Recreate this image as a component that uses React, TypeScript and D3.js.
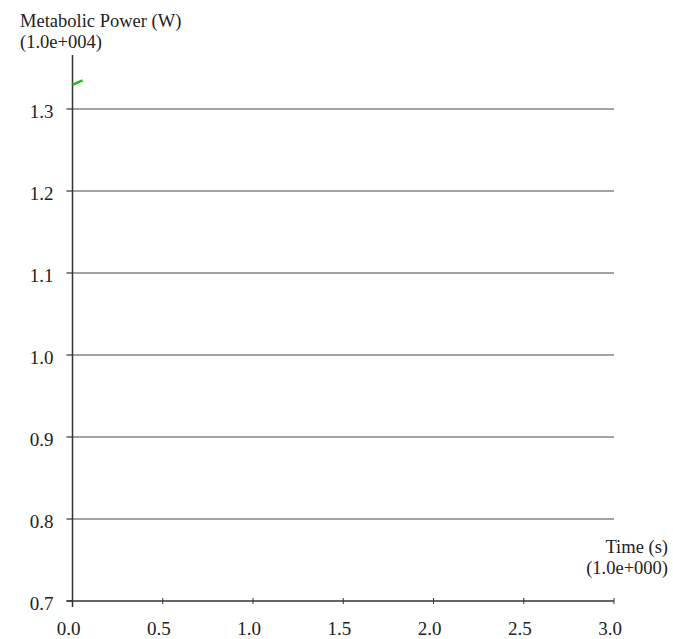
import React from "react";
import * as d3 from "d3";

// time (s) and metabolic power (in units of 1.0e+004 W)
const times = [0.0, 0.015, 0.03, 0.045, 0.056];
const power = [1.3293, 1.3310, 1.3326, 1.3340, 1.3348];

const xTicks = [0.0, 0.5, 1.0, 1.5, 2.0, 2.5, 3.0];
const yTicks = [0.7, 0.8, 0.9, 1.0, 1.1, 1.2, 1.3];

const W = 673;
const H = 639;
const font = "'Liberation Serif', 'Times New Roman', serif";

export default function App() {
  const x = d3.scaleLinear().domain([0, 3]).range([72.5, 614]);
  const y = d3.scaleLinear().domain([0.7, 1.3]).range([601, 109]);
  const yTop = y(1.3659);

  const line = d3
    .line<number>()
    .x((_, i) => x(times[i]))
    .y((d) => y(d));

  return (
    <svg
      width={W}
      height={H}
      style={{ position: "absolute", left: 0, top: 0, background: "#fff" }}
      fontFamily={font}
    >
      {/* y label */}
      <text x={20} y={27} fontSize={18.5} fill="#222">Metabolic Power (W)</text>
      <text x={20} y={48} fontSize={18.5} fill="#222">(1.0e+004)</text>

      {/* gridlines + y ticks */}
      {yTicks.map((t) => (
        <g key={t}>
          {t > 0.7 && (
            <line x1={x(0)} x2={x(3)} y1={y(t)} y2={y(t)} stroke="#444" strokeWidth={1} />
          )}
          <line x1={x(0) - 6} x2={x(0)} y1={y(t)} y2={y(t)} stroke="#333" strokeWidth={1.2} />
          <text x={53.5} y={y(t) + 8.5} fontSize={19} textAnchor="end" fill="#222">
            {t.toFixed(1)}
          </text>
        </g>
      ))}

      {/* x axis */}
      <line x1={x(0) - 6} x2={x(3)} y1={y(0.7)} y2={y(0.7)} stroke="#333" strokeWidth={1.5} />
      {xTicks.map((t) => (
        <g key={t}>
          <line x1={x(t)} x2={x(t)} y1={y(0.7) - 3} y2={y(0.7) + 3} stroke="#333" strokeWidth={1} />
          <text x={x(t) - 4} y={635} fontSize={19} textAnchor="middle" fill="#222">
            {t.toFixed(1)}
          </text>
        </g>
      ))}

      {/* y axis */}
      <line x1={x(0)} x2={x(0)} y1={yTop} y2={y(0.7) + 6} stroke="#333" strokeWidth={1.5} />

      {/* x label */}
      <text x={668} y={553} fontSize={18.5} textAnchor="end" fill="#222">Time (s)</text>
      <text x={668} y={574} fontSize={18.5} textAnchor="end" fill="#222">(1.0e+000)</text>

      {/* data */}
      <path d={line(power) ?? ""} fill="none" stroke="#22bb22" strokeWidth={2.5} />
    </svg>
  );
}
